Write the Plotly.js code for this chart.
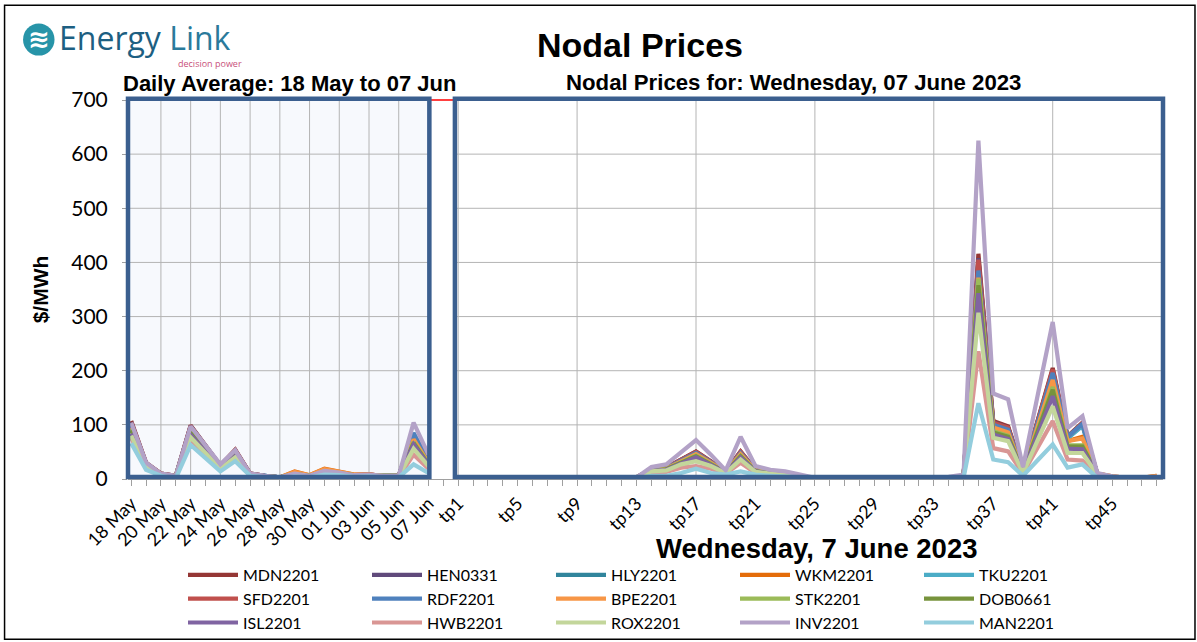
<!DOCTYPE html>
<html>
<head>
<meta charset="utf-8">
<script src="https://cdn.plot.ly/plotly-3.0.1.min.js"></script>
<style>html,body{margin:0;padding:0;background:#fff;}#chart{width:1197px;height:642px;}</style>
</head>
<body>
<div id="chart"></div>
<script>
// ---------- categories / tick labels ----------
const dayLabels = ['18 May','19 May','20 May','21 May','22 May','23 May','24 May','25 May','26 May','27 May','28 May',
  '29 May','30 May','31 May','01 Jun','02 Jun','03 Jun','04 Jun','05 Jun','06 Jun','07 Jun'];
const tpLabels = ['tp1','tp2','tp3','tp4','tp5','tp6','tp7','tp8','tp9','tp10','tp11','tp12','tp13','tp14','tp15','tp16',
  'tp17','tp18','tp19','tp20','tp21','tp22','tp23','tp24','tp25','tp26','tp27','tp28','tp29','tp30','tp31','tp32',
  'tp33','tp34','tp35','tp36','tp37','tp38','tp39','tp40','tp41','tp42','tp43','tp44','tp45','tp46','tp47','tp48'];
const yTicks = [0,100,200,300,400,500,600,700];

// ---------- series: daily averages (18 May - 07 Jun) ----------
const dMDN = [107,30,10,6,99,62,25,54,10,6,3,10,6,15,12,7,8,6,6,82,33];
const dHEN = [105,29,10,6,98,61,25,53,10,6,3,10,6,14,12,7,8,6,6,80,32];
const dHLY = [100,28,9,5,95,59,24,51,9,6,3,9,6,13,11,7,7,6,6,78,31];
const dWKM = [96,27,9,5,92,57,23,49,9,5,3,14,7,19,13,8,8,6,6,74,30];
const dTKU = [98,28,9,5,93,58,24,50,9,6,3,9,6,13,11,7,7,6,6,79,31];
const dSFD = [104,29,10,6,97,61,25,53,10,6,3,10,6,14,12,7,8,6,6,80,32];
const dRDF = [100,28,9,5,95,59,24,51,9,6,3,9,6,13,11,7,7,6,6,85,33];
const dBPE = [95,27,9,5,91,57,23,48,9,5,3,13,7,18,13,8,8,6,6,73,30];
const dSTK = [93,26,9,5,89,55,22,46,9,5,3,9,6,12,11,7,7,6,6,68,28];
const dDOB = [90,26,8,5,87,54,22,45,8,5,3,9,6,12,10,7,7,5,5,66,27];
const dISL = [84,24,8,4,81,50,20,42,8,5,2,8,5,11,10,6,6,5,5,64,26];
const dHWB = [76,21,7,3,73,45,18,37,7,4,2,7,5,10,9,6,6,4,4,45,19];
const dROX = [80,23,8,4,77,48,19,40,8,4,2,8,5,11,9,6,6,5,5,56,24];
const dINV = [104,30,10,6,97,62,27,53,10,6,3,10,6,15,12,7,8,6,6,104,45];
const dMAN = [66,17,6,1,63,38,14,33,6,3,1,5,3,8,7,4,5,3,3,27,11];

// ---------- series: trading periods, Wednesday 07 June 2023 ----------
const tMDN = [1,1,1,1,1,1,1,1,1,1,1,2, 3,18,21,37,51,33,14,51,17,13,10,5, 2,2,2,2,2,2,2,2, 3,3,5,416,107,97,14,110,205,79,104,9,4,2,2,3];
const tHEN = [1,1,1,1,1,1,1,1,1,1,1,2, 3,18,21,36,50,32,14,50,17,13,10,5, 2,2,2,2,2,2,2,2, 3,3,5,408,105,95,14,107,200,77,100,9,4,2,2,3];
const tHLY = [1,1,1,1,1,1,1,1,1,1,1,2, 3,17,20,35,48,31,13,48,16,12,9,5, 2,2,2,2,2,2,2,2, 3,3,5,390,100,91,13,103,193,76,100,9,4,2,2,3];
const tWKM = [1,1,1,1,1,1,1,1,1,1,1,2, 3,17,20,34,47,30,13,47,16,12,9,5, 2,2,2,2,2,2,2,2, 3,3,5,378,96,88,13,99,185,70,78,10,5,2,2,6];
const tTKU = [1,1,1,1,1,1,1,1,1,1,1,2, 3,17,20,34,47,31,13,47,16,12,9,5, 2,2,2,2,2,2,2,2, 3,3,5,380,98,89,13,101,190,75,98,9,4,2,2,3];
const tSFD = [1,1,1,1,1,1,1,1,1,1,1,2, 3,18,21,36,50,32,14,50,17,13,10,5, 2,2,2,2,2,2,2,2, 3,3,5,405,104,95,14,108,202,78,103,9,4,2,2,3];
const tRDF = [1,1,1,1,1,1,1,1,1,1,1,2, 3,17,20,35,48,31,13,48,16,12,9,5, 2,2,2,2,2,2,2,2, 3,3,5,385,100,91,13,105,196,78,102,9,4,2,2,3];
const tBPE = [1,1,1,1,1,1,1,1,1,1,1,2, 3,17,19,33,46,30,13,46,16,12,9,5, 2,2,2,2,2,2,2,2, 3,3,5,372,95,86,13,98,183,70,75,10,5,2,2,6];
const tSTK = [1,1,1,1,1,1,1,1,1,1,1,2, 3,16,18,31,43,28,12,43,15,11,8,4, 2,2,2,2,2,2,2,2, 3,3,5,370,88,80,12,91,170,62,62,9,4,2,2,3];
const tDOB = [1,1,1,1,1,1,1,1,1,1,1,2, 3,16,18,30,42,27,12,42,14,11,8,4, 2,2,2,2,2,2,2,2, 3,3,5,358,86,78,12,89,165,60,60,9,4,2,2,3];
const tISL = [1,1,1,1,1,1,1,1,1,1,1,2, 3,15,17,29,40,26,12,40,14,10,8,4, 2,2,2,2,2,2,2,2, 3,3,4,343,82,74,12,83,153,56,55,8,4,2,2,3];
const tHWB = [1,1,1,1,1,1,1,1,1,1,1,1, 2,11,13,21,24,19,10,30,11,8,6,3, 1,1,1,1,1,1,1,1, 2,2,4,236,57,51,10,58,107,36,34,7,3,1,1,2];
const tROX = [1,1,1,1,1,1,1,1,1,1,1,1, 2,14,16,27,33,24,11,36,13,10,7,4, 2,2,2,2,2,2,2,2, 3,3,4,307,76,70,11,73,134,48,48,8,4,2,2,2];
const tINV = [1,1,1,1,1,1,1,1,1,1,1,2, 3,22,27,49,72,45,16,78,24,17,14,8, 2,2,2,2,2,2,2,2, 3,4,8,625,158,147,22,156,290,94,116,11,5,2,2,3];
const tMAN = [0,0,0,0,0,0,0,0,0,0,0,1, 1,6,6,11,19,11,8,14,8,6,5,3, 1,1,1,1,1,1,1,1, 1,1,2,140,36,31,6,35,64,21,27,2,1,1,1,1];

const seriesNames  = ['MDN2201','HEN0331','HLY2201','WKM2201','TKU2201','SFD2201','RDF2201','BPE2201','STK2201','DOB0661','ISL2201','HWB2201','ROX2201','INV2201','MAN2201'];
const seriesColors = ['#953735','#604a7b','#31859c','#e46c0a','#4bacc6','#c0504d','#4f81bd','#f79646','#9bbb59','#77933c','#8064a2','#d99694','#c3d69b','#b3a2c7','#93cddd'];
const dailySeries  = [dMDN,dHEN,dHLY,dWKM,dTKU,dSFD,dRDF,dBPE,dSTK,dDOB,dISL,dHWB,dROX,dINV,dMAN];
const tpSeries     = [tMDN,tHEN,tHLY,tWKM,tTKU,tSFD,tRDF,tBPE,tSTK,tDOB,tISL,tHWB,tROX,tINV,tMAN];

// ---------- axis positions (category index) ----------
const GAP = dayLabels.length;           // one empty slot between the two panels
const TP0 = GAP + 1;
const dayX = dayLabels.map((_, i) => i);
const tpX  = tpLabels.map((_, i) => TP0 + i);

const traces = seriesNames.map((name, k) => ({
  type: 'scatter', mode: 'lines', name: name,
  x: dayX.concat([GAP], tpX),
  y: dailySeries[k].concat([null], tpSeries[k]),
  connectgaps: false,
  line: {color: seriesColors[k], width: 4.2},
  hoverinfo: 'x+y+name'
}));

// tick labels: every 2nd day, every 4th trading period
const tickVals = [], tickText = [];
dayLabels.forEach((l, i) => { if (i % 2 === 0) { tickVals.push(dayX[i]); tickText.push(l); } });
tpLabels.forEach((l, i) => { if (i % 4 === 0) { tickVals.push(tpX[i]); tickText.push(l); } });
// vertical grid: every 2nd day in left panel, every 8th period in right panel
const vGridLeft  = dayX.filter((_, i) => i % 2 === 0 && i > 0 && i < dayX.length - 1);
const vGridRight = tpX.filter((_, i) => i % 8 === 0);

// ---------- layout geometry ----------
const W = 1197, H = 642;
const L = 127.5, R = 1163, T = 100, B = 479.5;
const XR = [-0.215, 69.42];
const px = v => (v - L) / (R - L);               // figure pixel -> paper x
const py = v => (B - v) / (B - T);               // figure pixel -> paper y
const dx = v => (v - XR[0]) / (XR[1] - XR[0]);   // data x -> paper x

const leftPanel  = [XR[0], GAP - 0.94];
const rightPanel = [GAP + 0.78, XR[1]];
const borderCol = '#3b5f8f';
const gridCol = '#b4b4b4';

const shapes = [];
// panel fills
shapes.push({type:'rect', xref:'paper', yref:'paper', x0:dx(leftPanel[0]), x1:dx(leftPanel[1]), y0:py(477.5), y1:py(98.7),
  fillcolor:'#f7f9fd', line:{width:0}, layer:'below'});
// horizontal grid
yTicks.slice(1, -1).forEach(v => {
  [leftPanel, rightPanel].forEach(p => shapes.push({type:'line', xref:'x', yref:'y', x0:p[0], x1:p[1], y0:v, y1:v,
    line:{color:gridCol, width:1}, layer:'below'}));
});
// vertical grid
vGridLeft.concat(vGridRight).forEach(v => shapes.push({type:'line', xref:'x', yref:'y', x0:v, x1:v, y0:0, y1:700,
  line:{color:gridCol, width:1}, layer:'below'}));
// red connector between panels
shapes.push({type:'line', xref:'paper', yref:'paper', x0:dx(leftPanel[1]), x1:dx(rightPanel[0]), y0:py(100), y1:py(100),
  line:{color:'#ff0000', width:1.5}, layer:'above'});
// panel borders
[leftPanel, rightPanel].forEach(p => shapes.push({type:'rect', xref:'paper', yref:'paper', x0:dx(p[0]), x1:dx(p[1]),
  y0:py(477.5), y1:py(98.7), line:{color:borderCol, width:4.5}, fillcolor:'rgba(0,0,0,0)', layer:'above'}));
// outer frame
shapes.push({type:'rect', xref:'paper', yref:'paper', x0:px(4), x1:px(1195), y0:py(640), y1:py(5),
  line:{color:'#000000', width:1.5}, fillcolor:'rgba(0,0,0,0)', layer:'above'});
// logo circle
shapes.push({type:'circle', xref:'paper', yref:'paper', x0:px(22.5), x1:px(54), y0:py(55.5), y1:py(23.5),
  fillcolor:'#2794a8', line:{width:0}, layer:'above'});

const bold = (size, color) => ({family:'Liberation Sans, Arial, sans-serif', size:size, color:color || '#000', weight:'bold'});

const annotations = [
  {text:'Daily Average: 18 May to 07 Jun', xref:'paper', yref:'paper', x:px(289), y:py(83), xanchor:'center', yanchor:'middle',
   showarrow:false, font:bold(22)},
  {text:'Nodal Prices for: Wednesday, 07 June 2023', xref:'paper', yref:'paper', x:px(793), y:py(82), xanchor:'center', yanchor:'middle',
   showarrow:false, font:bold(22.2)},
  {text:'Wednesday, 7 June 2023', xref:'paper', yref:'paper', x:px(817), y:py(549), xanchor:'center', yanchor:'middle',
   showarrow:false, font:bold(27.5)},
  {text:'≋', xref:'paper', yref:'paper', x:px(38.5), y:py(39), xanchor:'center', yanchor:'middle',
   showarrow:false, font:{family:'DejaVu Sans', size:26, color:'#ffffff', weight:'bold'}},
  {text:'<span style="color:#1d5f82">Energy</span> <span style="color:#2a7a9b">Link</span>', xref:'paper', yref:'paper',
   x:px(56), y:py(37), xanchor:'left', yanchor:'middle', showarrow:false,
   font:{family:'Open Sans, sans-serif', size:32, color:'#1d5f82', weight:500}},
  {text:'decision power', xref:'paper', yref:'paper', x:px(176), y:py(63), xanchor:'left', yanchor:'middle', showarrow:false,
   font:{family:'Open Sans, sans-serif', size:9, color:'#c8507a'}}
];

const layout = {
  width: W, height: H,
  margin: {l: L, r: W - R, t: T, b: H - B, pad: 0},
  paper_bgcolor: '#ffffff',
  plot_bgcolor: 'rgba(0,0,0,0)',
  title: {text: 'Nodal Prices', xref: 'container', yref: 'container', x: 640 / W, y: 1 - 45 / H,
          xanchor: 'center', yanchor: 'middle', font: bold(34)},
  xaxis: {
    range: XR, showgrid: false, zeroline: false, showline: true, linecolor: '#a0a0a0', linewidth: 1,
    tickmode: 'array', tickvals: tickVals, ticktext: tickText, tickangle: -45,
    ticks: 'outside', ticklen: 6, tickcolor: '#a0a0a0', tickwidth: 1,
    minor: {tickmode: 'linear', tick0: 0, dtick: 1, ticks: 'outside', ticklen: 6, tickcolor: '#a0a0a0', tickwidth: 1, showgrid: false},
    tickfont: {family: 'Lato, sans-serif', size: 18, color: '#000'}
  },
  yaxis: {
    range: [0, 700], showgrid: false, zeroline: false, showline: false,
    tickmode: 'array', tickvals: yTicks, ticks: 'outside', ticklen: 5, tickcolor: '#a0a0a0',
    ticklabelstandoff: 10,
    tickfont: {family: 'Lato, sans-serif', size: 21, color: '#000'},
    title: {text: '$/MWh', font: bold(21), standoff: 16}
  },
  showlegend: true,
  legend: {
    orientation: 'h', xref: 'container', yref: 'container', x: 183 / W, y: 1 - 558 / H,
    xanchor: 'left', yanchor: 'top', entrywidth: 119, entrywidthmode: 'pixels', itemwidth: 50,
    font: {family: 'Lato, sans-serif', size: 16, color: '#000'}, bgcolor: 'rgba(0,0,0,0)', traceorder: 'normal'
  },
  shapes: shapes,
  annotations: annotations
};

Plotly.newPlot('chart', traces, layout, {displayModeBar: false, staticPlot: true});
</script>
</body>
</html>
